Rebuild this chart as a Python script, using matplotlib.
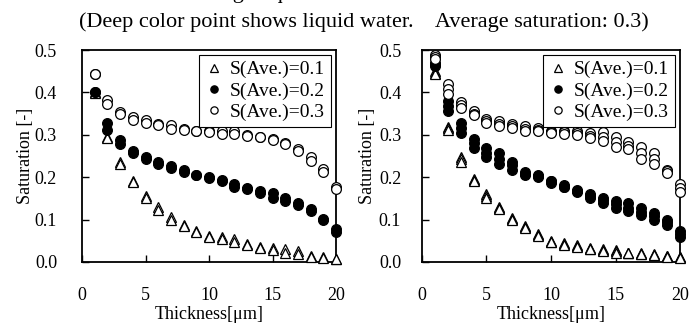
import matplotlib
matplotlib.use('Agg')
import matplotlib.pyplot as plt
import numpy as np

plt.rcParams['font.family'] = ['Liberation Serif', 'DejaVu Serif']
plt.rcParams['mathtext.fontset'] = 'stix'

thickness = list(range(1, 21))

# left panel: two runs per average saturation
left_s01 = [
    [0.400, 0.296, 0.236, 0.192, 0.156, 0.130, 0.106, 0.088, 0.072, 0.062,
     0.060, 0.054, 0.042, 0.036, 0.032, 0.030, 0.026, 0.014, 0.012, 0.008],
    [0.398, 0.292, 0.232, 0.188, 0.150, 0.122, 0.100, 0.086, 0.070, 0.060,
     0.054, 0.048, 0.040, 0.034, 0.028, 0.022, 0.018, 0.012, 0.010, 0.006],
]
left_s02 = [
    [0.402, 0.328, 0.288, 0.262, 0.248, 0.236, 0.226, 0.216, 0.206, 0.200,
     0.194, 0.184, 0.174, 0.168, 0.162, 0.152, 0.138, 0.124, 0.102, 0.078],
    [0.400, 0.312, 0.278, 0.256, 0.242, 0.232, 0.222, 0.212, 0.204, 0.198,
     0.190, 0.178, 0.172, 0.162, 0.152, 0.144, 0.134, 0.120, 0.098, 0.070],
]
left_s03 = [
    [0.444, 0.382, 0.354, 0.342, 0.334, 0.326, 0.324, 0.314, 0.310, 0.310,
     0.308, 0.310, 0.300, 0.296, 0.290, 0.280, 0.266, 0.248, 0.220, 0.176],
    [0.444, 0.372, 0.350, 0.334, 0.328, 0.322, 0.314, 0.312, 0.308, 0.306,
     0.302, 0.302, 0.298, 0.294, 0.288, 0.278, 0.262, 0.238, 0.212, 0.172],
]

# right panel: three runs per average saturation
right_s01 = [
    [0.450, 0.318, 0.248, 0.196, 0.160, 0.130, 0.104, 0.084, 0.066, 0.050,
     0.044, 0.040, 0.032, 0.030, 0.028, 0.022, 0.020, 0.018, 0.014, 0.012],
    [0.446, 0.316, 0.242, 0.194, 0.155, 0.128, 0.102, 0.082, 0.064, 0.048,
     0.042, 0.038, 0.031, 0.028, 0.025, 0.021, 0.019, 0.017, 0.013, 0.011],
    [0.444, 0.312, 0.236, 0.192, 0.150, 0.126, 0.100, 0.080, 0.062, 0.046,
     0.040, 0.036, 0.030, 0.026, 0.022, 0.020, 0.018, 0.016, 0.012, 0.010],
]
right_s02 = [
    [0.470, 0.380, 0.328, 0.290, 0.268, 0.258, 0.236, 0.212, 0.204, 0.192,
     0.182, 0.170, 0.160, 0.152, 0.144, 0.138, 0.128, 0.116, 0.100, 0.074],
    [0.466, 0.368, 0.316, 0.280, 0.256, 0.244, 0.228, 0.208, 0.202, 0.190,
     0.178, 0.168, 0.156, 0.146, 0.136, 0.128, 0.118, 0.108, 0.094, 0.066],
    [0.462, 0.356, 0.304, 0.268, 0.248, 0.232, 0.216, 0.204, 0.200, 0.186,
     0.176, 0.164, 0.152, 0.140, 0.128, 0.120, 0.110, 0.100, 0.088, 0.060],
]
right_s03 = [
    [0.488, 0.420, 0.378, 0.356, 0.338, 0.332, 0.326, 0.320, 0.316, 0.308,
     0.310, 0.308, 0.304, 0.306, 0.296, 0.282, 0.272, 0.256, 0.218, 0.184],
    [0.484, 0.408, 0.370, 0.350, 0.332, 0.326, 0.320, 0.314, 0.312, 0.306,
     0.306, 0.304, 0.298, 0.296, 0.284, 0.274, 0.256, 0.244, 0.214, 0.174],
    [0.480, 0.396, 0.364, 0.346, 0.328, 0.320, 0.316, 0.310, 0.308, 0.304,
     0.302, 0.300, 0.292, 0.286, 0.272, 0.266, 0.244, 0.232, 0.210, 0.164],
]

labels = ['S(Ave.)=0.1', 'S(Ave.)=0.2', 'S(Ave.)=0.3']
yticks = [0.0, 0.1, 0.2, 0.3, 0.4, 0.5]
xticks = [0, 5, 10, 15, 20]

fig = plt.figure(figsize=(6.91, 3.25), dpi=100)
ax1 = fig.add_axes([0.1187, 0.194, 0.3676, 0.652])
ax2 = fig.add_axes([0.6107, 0.194, 0.3734, 0.652])

# first title line is cut by the top edge in the source figure
fig.text(0.463, 1 + 2.0/325, 'Average liquid water saturation', ha='center', va='baseline', fontsize=16)
fig.text(0.527, 0.932, '(Deep color point shows liquid water.    Average saturation: 0.3)',
         ha='center', va='center', fontsize=16)


def draw(ax, s01, s02, s03, label_pad, ylab_x):
    styles = [
        (s01, dict(marker='^', mfc='white', mec='black')),
        (s02, dict(marker='o', mfc='black', mec='black')),
        (s03, dict(marker='o', mfc='white', mec='black')),
    ]
    for k, (runs, st) in enumerate(styles):
        for i, run in enumerate(runs):
            ax.plot(thickness, run, ls='none', ms=7, mew=0.9, clip_on=False, zorder=5,
                    label=labels[k] if i == 0 else None, **st)
    ax.set_xlim(0, 20)
    ax.set_ylim(0, 0.5)
    ax.set_xticks(xticks)
    ax.set_yticks(yticks)
    ax.set_yticklabels(['%.1f' % v for v in yticks])
    ax.tick_params(direction='in', length=5, width=1, labelsize=13)
    ax.tick_params(axis='x', pad=18)
    ax.tick_params(axis='y', pad=label_pad)
    for sp in ax.spines.values():
        sp.set_linewidth(1.3)
    ax.set_xlabel('Thickness[$\\mathregular{\\mu}$m]', fontsize=13, labelpad=0)
    ax.set_ylabel('Saturation [-]', fontsize=13)
    ax.yaxis.set_label_coords(ylab_x, 0.5)
    leg = ax.legend(loc='upper right', fontsize=14, markerscale=0.75, handlelength=0.9,
                    handletextpad=0.4, borderpad=0.3, labelspacing=0.18,
                    borderaxespad=0.25, fancybox=False, framealpha=1)
    leg.get_frame().set_edgecolor('black')
    leg.get_frame().set_linewidth(0.8)


draw(ax1, left_s01, left_s02, left_s03, 18, -0.19)
draw(ax2, right_s01, right_s02, right_s03, 15, -0.18)

fig.savefig('out.png', dpi=100)
